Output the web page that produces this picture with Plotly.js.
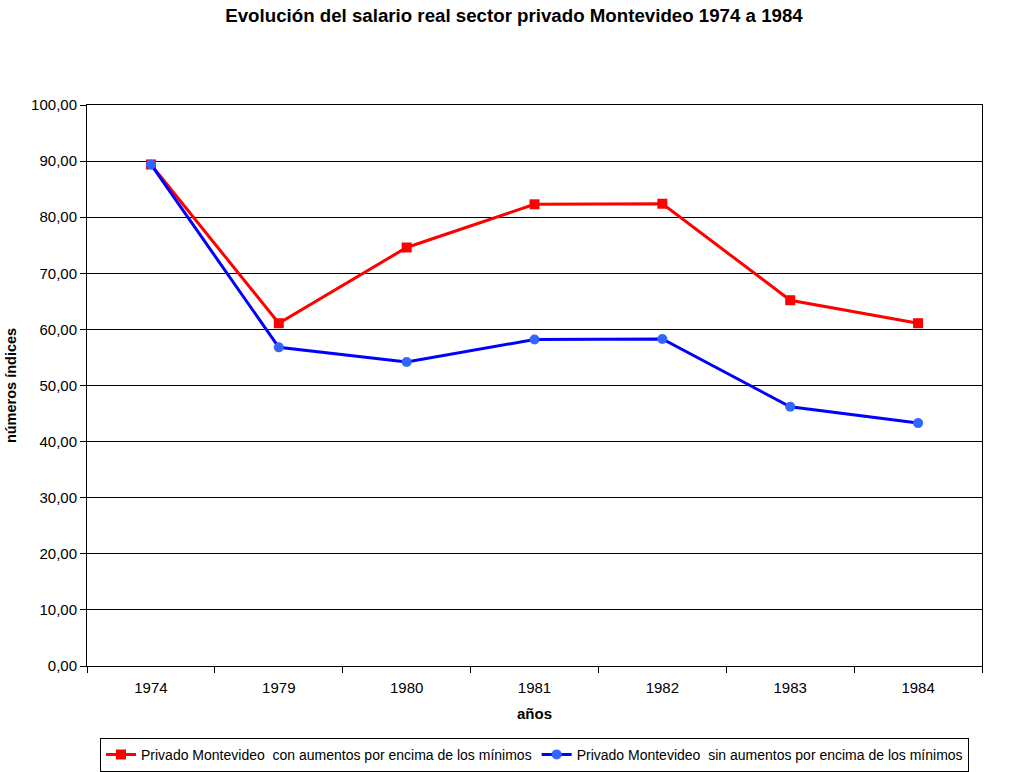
<!DOCTYPE html>
<html>
<head>
<meta charset="utf-8">
<script src="https://cdn.plot.ly/plotly-3.0.1.min.js"></script>
<style>html,body{margin:0;padding:0;background:#fff;}#chart{width:1028px;height:772px;}</style>
</head>
<body>
<div id="chart"></div>
<script>
const years = ["1974", "1979", "1980", "1981", "1982", "1983", "1984"];
const conAumentos = [89.4, 61.1, 74.6, 82.3, 82.4, 65.2, 61.1];
const sinAumentos = [89.4, 56.8, 54.2, 58.2, 58.3, 46.2, 43.3];
const yTicks = [0, 10, 20, 30, 40, 50, 60, 70, 80, 90, 100];

const font = "Liberation Sans, Arial, sans-serif";

const traces = [
  {
    x: years, y: conAumentos, type: "scatter", mode: "lines+markers",
    name: "Privado Montevideo  con aumentos por encima de los mínimos",
    line: {color: "#FF0000", width: 3},
    marker: {symbol: "square", size: 10, color: "#FF0000"}
  },
  {
    x: years, y: sinAumentos, type: "scatter", mode: "lines+markers",
    name: "Privado Montevideo  sin aumentos por encima de los mínimos",
    line: {color: "#0000FF", width: 3},
    marker: {symbol: "circle", size: 10, color: "#3366FF"}
  }
];

const layout = {
  width: 1028, height: 772,
  paper_bgcolor: "#fff", plot_bgcolor: "#fff",
  separators: ",.",
  font: {family: font, size: 15, color: "#000"},
  margin: {l: 87, r: 46, t: 105, b: 106, autoexpand: false},
  title: {text: "<b>Evolución del salario real sector privado Montevideo 1974 a 1984</b>",
          font: {family: font, size: 18.7, color: "#000"}, x: 0.5, xanchor: "center",
          y: 1 - 15 / 772, yanchor: "middle"},
  xaxis: {
    type: "category", range: [-0.5, 6.5], tickson: "boundaries",
    ticks: "outside", ticklen: 6, tickcolor: "#000",
    ticklabelstandoff: 8,
    showline: true, linecolor: "#000", linewidth: 1, mirror: true,
    showgrid: false, zeroline: false,
    tickfont: {family: font, size: 15},
    title: {text: "<b>años</b>", font: {family: font, size: 15}, standoff: 13}
  },
  yaxis: {
    range: [0, 100], tickvals: yTicks, tickformat: ".2f",
    ticks: "outside", ticklen: 6, tickcolor: "#000",
    showline: true, linecolor: "#000", linewidth: 1, mirror: true,
    showgrid: true, gridcolor: "#000", gridwidth: 1, zeroline: false,
    tickfont: {family: font, size: 15},
    title: {text: "<b>números índices</b>", font: {family: font, size: 14.5}, standoff: 11}
  },
  showlegend: true,
  legend: {
    orientation: "h", x: 0.5, xanchor: "center", y: -0.128, yanchor: "top",
    bordercolor: "#000", borderwidth: 1, bgcolor: "#fff",
    font: {family: font, size: 14}
  }
};

Plotly.newPlot("chart", traces, layout, {displayModeBar: false, staticPlot: true});
</script>
</body>
</html>
